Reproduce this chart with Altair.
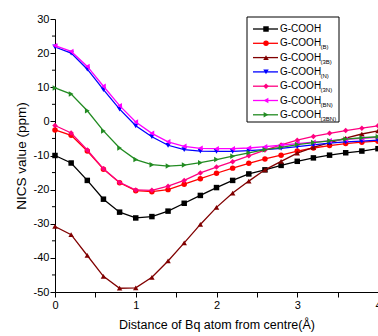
import altair as alt
import pandas as pd

# ---------------- data ----------------
x_vals = [0.0, 0.2, 0.4, 0.6, 0.8, 1.0, 1.2, 1.4, 1.6, 1.8, 2.0,
          2.2, 2.4, 2.6, 2.8, 3.0, 3.2, 3.4, 3.6, 3.8, 4.0]

y_gcooh = [-10.0, -12.2, -17.3, -22.8, -26.6, -28.3, -27.9, -26.3, -24.0, -21.7, -19.4,
           -17.3, -15.4, -14.2, -12.9, -11.7, -10.7, -9.9, -9.2, -8.7, -8.0]
y_b = [-2.5, -4.1, -8.7, -14.0, -18.0, -20.3, -20.6, -20.0, -18.4, -16.8, -15.2,
       -13.7, -12.3, -11.0, -9.9, -8.7, -7.8, -7.1, -6.5, -6.1, -5.8]
y_3b = [-30.8, -33.2, -39.3, -45.4, -48.9, -48.8, -45.7, -40.9, -35.6, -30.2, -25.2,
        -21.0, -17.5, -14.2, -11.7, -9.3, -7.6, -6.2, -4.9, -3.7, -2.8]
y_n = [21.8, 20.0, 15.3, 9.3, 3.6, -1.3, -4.5, -7.0, -8.3, -8.7, -8.8,
       -8.8, -8.6, -8.3, -7.9, -7.4, -6.9, -6.4, -6.0, -5.8, -5.5]
y_3n = [-1.2, -3.4, -8.4, -13.9, -17.9, -20.1, -20.2, -19.0, -17.3, -15.1, -13.4,
        -11.8, -10.1, -8.4, -6.9, -5.5, -4.4, -3.5, -2.7, -2.0, -1.3]
y_bn = [22.2, 20.5, 16.1, 10.3, 4.6, -0.2, -3.5, -6.0, -7.3, -7.9, -8.0,
        -8.0, -7.8, -7.4, -7.0, -6.5, -6.1, -5.7, -5.3, -5.0, -4.7]
y_3bn = [9.8, 8.0, 3.1, -2.8, -7.8, -11.2, -12.7, -13.1, -12.8, -12.1, -11.2,
         -10.2, -9.2, -8.3, -7.6, -6.8, -6.2, -5.7, -5.2, -4.8, -4.5]

series_base = ["G-COOH"] * 7
series_subs = ["", "(B)", "(3B)", "(N)", "(3N)", "(BN)", "(3BN)"]
series_keys = [b + s for b, s in zip(series_base, series_subs)]
series_vals = [y_gcooh, y_b, y_3b, y_n, y_3n, y_bn, y_3bn]
colors = ["#000000", "#FF0000", "#800000", "#0000FF", "#FF0080", "#FF00FF", "#228B22"]
shapes = ["square", "circle", "triangle-up", "triangle-down", "diamond",
          "triangle-left", "triangle-right"]

x_ticks = [0, 0.5, 1, 1.5, 2, 2.5, 3, 3.5, 4]
y_ticks = [-50, -40, -30, -20, -10, 0, 10, 20, 30]
y_minor = [-45, -35, -25, -15, -5, 5, 15, 25]

FONT = "Liberation Sans"
W, H = 323, 273

x_enc = alt.X("x:Q", scale=alt.Scale(domain=[0, 4], nice=False, zero=False),
              axis=alt.Axis(values=x_ticks, grid=False, tickSize=5,
                            labelExpr="datum.value % 1 === 0 ? '' + datum.value : ''",
                            labelFontSize=11, labelPadding=2, labelFlush=False,
                            title="Distance of Bq atom from centre(Å)",
                            titleFontSize=12.5, titlePadding=8))
y_enc = alt.Y("y:Q", scale=alt.Scale(domain=[-50, 30], nice=False, zero=False),
              axis=alt.Axis(values=y_ticks, grid=False, tickSize=5,
                            labelExpr="'' + datum.value",
                            labelFontSize=11, labelPadding=1, labelFlush=False,
                            title="NICS value (ppm)",
                            titleFontSize=13.5, titlePadding=5))

layers = []
for key, vals, col, shp in zip(series_keys, series_vals, colors, shapes):
    df = pd.DataFrame({"x": x_vals, "y": vals, "key": key})
    base = alt.Chart(df)
    layers.append(base.mark_line(color=col, strokeWidth=1.3).encode(x=x_enc, y=y_enc))
    layers.append(base.mark_point(shape=shp, filled=True, color=col, size=30,
                                  opacity=1).encode(x=x_enc, y=y_enc))

minor = alt.Chart(pd.DataFrame({"y": y_minor})).mark_rule(color="black", strokeWidth=1).encode(
    y=y_enc, x=alt.value(-3), x2=alt.value(0))
layers.append(minor)

main = alt.layer(*layers)

# ---------------- legend ----------------
leg_df = pd.DataFrame({"key": series_keys, "name": series_base, "sub": series_subs,
                       "row": list(range(len(series_keys)))})
ly = alt.Y("row:Q", scale=alt.Scale(domain=[0, 6], range=[10, 95.8]), axis=None)
lcol = alt.Color("key:N", scale=alt.Scale(domain=series_keys, range=colors), legend=None)
lshp = alt.Shape("key:N", scale=alt.Scale(domain=series_keys, range=shapes), legend=None)

box = alt.Chart(pd.DataFrame({"a": [0]})).mark_rect(
    fill="white", stroke="black", strokeWidth=1).encode(
    x=alt.value(192), x2=alt.value(284), y=alt.value(-2), y2=alt.value(103))
lrule = alt.Chart(leg_df).mark_rule(strokeWidth=1.3).encode(
    x=alt.value(198), x2=alt.value(223), y=ly, color=lcol)
lpts = alt.Chart(leg_df).mark_point(filled=True, size=30, opacity=1).encode(
    x=alt.value(211), y=ly, color=lcol, shape=lshp)
ltxt = alt.Chart(leg_df).mark_text(align="left", baseline="middle", fontSize=10,
                                   font=FONT, color="black").encode(
    x=alt.value(225), y=ly, text="name:N")
lsub = alt.Chart(leg_df).mark_text(align="left", baseline="middle", fontSize=6,
                                   dy=4, font=FONT, color="black").encode(
    x=alt.value(265.5), y=ly, text="sub:N")

legend = alt.layer(box, lrule, lpts, ltxt, lsub)

chart = alt.layer(main, legend).resolve_scale(
    y="independent", color="independent", shape="independent"
).properties(
    width=W, height=H,
    autosize=alt.AutoSizeParams(type="none"),
    padding={"left": 55, "top": 19, "right": 0, "bottom": 44},
    background="white",
).configure_view(stroke=None).configure_axis(
    labelFont=FONT, titleFont=FONT, labelColor="black", titleColor="black",
    domainColor="black", tickColor="black", titleFontWeight="normal",
    domainWidth=1, tickWidth=1,
)

chart.save("out.html", embed_options={"renderer": "svg", "actions": False})
